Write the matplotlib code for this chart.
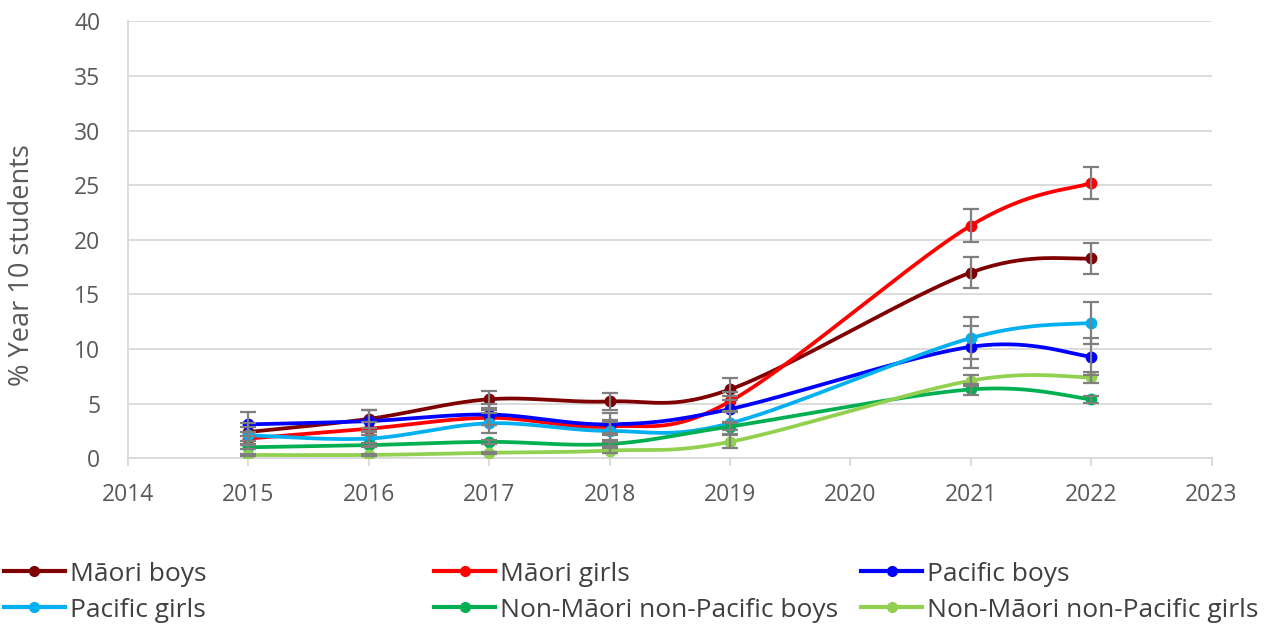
import numpy as np
import matplotlib
matplotlib.use("Agg")
import matplotlib.pyplot as plt
from matplotlib.lines import Line2D

plt.rcParams['font.family'] = ['Open Sans', 'DejaVu Sans']

years = [2015, 2016, 2017, 2018, 2019, 2021, 2022]
series_names = ["Māori boys", "Māori girls", "Pacific boys",
                "Pacific girls", "Non-Māori non-Pacific boys", "Non-Māori non-Pacific girls"]
colors = ["#7f0000", "#ff0000", "#0000ff", "#00b0f0", "#00b050", "#92d050"]

maori_boys = [2.4, 3.6, 5.4, 5.2, 6.3, 17.0, 18.3]
maori_girls = [1.8, 2.7, 3.7, 2.9, 5.2, 21.3, 25.2]
pacific_boys = [3.1, 3.4, 4.0, 3.1, 4.5, 10.2, 9.3]
pacific_girls = [2.1, 1.8, 3.2, 2.5, 3.2, 11.0, 12.4]
nmnp_boys = [1.0, 1.2, 1.5, 1.3, 2.9, 6.3, 5.4]
nmnp_girls = [0.3, 0.3, 0.5, 0.7, 1.5, 7.1, 7.4]

err_maori_boys = [0.8, 0.8, 0.8, 0.8, 1.0, 1.4, 1.4]
err_maori_girls = [0.6, 0.6, 0.7, 0.6, 0.9, 1.5, 1.5]
err_pacific_boys = [1.1, 1.0, 1.0, 1.0, 1.2, 1.9, 1.7]
err_pacific_girls = [0.8, 0.7, 0.9, 0.8, 1.0, 1.9, 1.9]
err_nmnp_boys = [0.2, 0.2, 0.2, 0.2, 0.3, 0.5, 0.3]
err_nmnp_girls = [0.1, 0.1, 0.1, 0.2, 0.6, 0.5, 0.5]

values = [maori_boys, maori_girls, pacific_boys, pacific_girls, nmnp_boys, nmnp_girls]
errors = [err_maori_boys, err_maori_girls, err_pacific_boys, err_pacific_girls,
          err_nmnp_boys, err_nmnp_girls]


def smooth(xs, ys, n=40):
    xs = np.asarray(xs, float)
    ys = np.asarray(ys, float)
    P = np.column_stack([xs, ys])
    out = []
    for i in range(len(P) - 1):
        p0 = P[i - 1] if i > 0 else P[i]
        p1 = P[i]
        p2 = P[i + 1]
        p3 = P[i + 2] if i + 2 < len(P) else P[i + 1]
        c1 = p1 + (p2 - p0) / 6.0
        c2 = p2 - (p3 - p1) / 6.0
        t = np.linspace(0, 1, n)[:, None]
        seg = ((1 - t) ** 3) * p1 + 3 * ((1 - t) ** 2) * t * c1 + 3 * (1 - t) * t ** 2 * c2 + t ** 3 * p2
        out.append(seg if i == 0 else seg[1:])
    s = np.vstack(out)
    return s[:, 0], s[:, 1]


fig = plt.figure(figsize=(12.74, 6.26), dpi=100)
ax = fig.add_axes([0.1005, 0.268, 0.8505, 0.698])

grid_c = "#d9d9d9"
text_c = "#595959"
for i, (vals, errs, c, name) in enumerate(zip(values, errors, colors, series_names)):
    sx, sy = smooth(years, vals)
    ax.plot(sx, sy, color=c, lw=2.7, zorder=3 + i * 0.1, solid_capstyle='round')
    ax.plot(years, vals, 'o', color=c, ms=7.5, zorder=3 + i * 0.1)
    ax.errorbar(years, vals, yerr=errs, fmt='none', ecolor="#7f7f7f", elinewidth=1.6,
                capsize=6, capthick=1.6, zorder=5)

ax.set_xlim(2014, 2023)
ax.set_ylim(0, 40)
ax.set_xticks(range(2014, 2024))
ax.set_yticks(range(0, 41, 5))
ax.yaxis.grid(True, color=grid_c, lw=1.3)
ax.set_axisbelow(True)
for s in ["top", "right"]:
    ax.spines[s].set_visible(False)
ax.spines["left"].set_color(grid_c)
ax.spines["bottom"].set_color(grid_c)
ax.spines["left"].set_linewidth(1.3)
ax.spines["bottom"].set_linewidth(1.3)
ax.tick_params(axis='y', length=0, labelsize=16.5, colors=text_c, pad=20)
ax.tick_params(axis='x', length=6, width=1.3, color=grid_c, labelsize=16.5, labelcolor=text_c, pad=12)
ax.set_ylabel("% Year 10 students", fontsize=19.5, color=text_c, va='center')
ax.yaxis.set_label_coords(-0.098, 0.442)

# legend, row-major as in the reference: three columns of two entries
col_entries = [[0, 3], [1, 4], [2, 5]]
col_x = [0.003, 0.341, 0.676]
for idxs, x in zip(col_entries, col_x):
    hs = [Line2D([0], [0], color=colors[k], lw=3, marker='o', ms=7) for k in idxs]
    labs = [series_names[k] for k in idxs]
    leg = fig.legend(hs, labs, loc='upper left', bbox_to_anchor=(x, 0.103),
                     frameon=False, fontsize=19, handlelength=2.3, handletextpad=0.2,
                     labelspacing=0.42, borderaxespad=0, borderpad=0)
    for t in leg.get_texts():
        t.set_color("#404040")

fig.savefig("out.png", dpi=100)
